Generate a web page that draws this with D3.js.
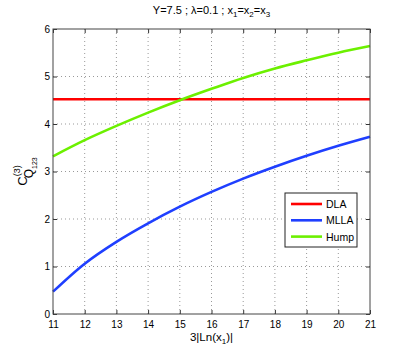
<!DOCTYPE html>
<html>
<head>
<meta charset="utf-8">
<script src="https://d3js.org/d3.v7.min.js"></script>
<style>
  body { margin: 0; background: #fff; }
  text { font-family: "Liberation Sans", Arial, sans-serif; fill: #000; }
</style>
</head>
<body>
<svg id="chart" width="409" height="354"></svg>
<script>
// data
var xs = [11, 12, 13, 14, 15, 16, 17, 18, 19, 20, 21];
var dla = [4.52, 4.52, 4.52, 4.52, 4.52, 4.52, 4.52, 4.52, 4.52, 4.52, 4.52];
var mlla = [0.47, 1.06, 1.52, 1.91, 2.26, 2.57, 2.85, 3.10, 3.33, 3.54, 3.73];
var hump = [3.32, 3.66, 3.96, 4.24, 4.50, 4.74, 4.97, 5.17, 5.34, 5.50, 5.64];
var seriesNames = ["DLA", "MLLA", "Hump"];
var seriesColors = ["#ff0000", "#1f3fff", "#6cf000"];
var xTicks = [11, 12, 13, 14, 15, 16, 17, 18, 19, 20, 21];
var yTicks = [0, 1, 2, 3, 4, 5, 6];

var margin = { top: 29, right: 39, bottom: 40, left: 53 };
var width = 409 - margin.left - margin.right;
var height = 354 - margin.top - margin.bottom;

var svg = d3.select("#chart");
var chart = svg.append("g")
    .attr("transform", "translate(" + margin.left + "," + margin.top + ")");

var x = d3.scaleLinear().domain([11, 21]).range([0, width]);
var y = d3.scaleLinear().domain([0, 6]).range([height, 0]);

// dotted grid
chart.append("g").selectAll("line.gx")
    .data(xTicks.slice(1, -1))
    .enter().append("line")
    .attr("x1", function(d) { return x(d); })
    .attr("x2", function(d) { return x(d); })
    .attr("y1", 0).attr("y2", height)
    .attr("stroke", "#999").attr("stroke-width", 1)
    .attr("stroke-dasharray", "1,3");
chart.append("g").selectAll("line.gy")
    .data(yTicks.slice(1, -1))
    .enter().append("line")
    .attr("y1", function(d) { return y(d); })
    .attr("y2", function(d) { return y(d); })
    .attr("x1", 0).attr("x2", width)
    .attr("stroke", "#999").attr("stroke-width", 1)
    .attr("stroke-dasharray", "1,3");

// curves
var line = d3.line()
    .x(function(d) { return x(d[0]); })
    .y(function(d) { return y(d[1]); })
    .curve(d3.curveCatmullRom);

var allSeries = [dla, mlla, hump];
allSeries.forEach(function(vals, i) {
    chart.append("path")
        .datum(xs.map(function(v, j) { return [v, vals[j]]; }))
        .attr("fill", "none")
        .attr("stroke", seriesColors[i])
        .attr("stroke-width", 2.6)
        .attr("d", line);
});

// axes with inward ticks (box style)
var xAxis = d3.axisBottom(x).tickValues(xTicks).tickSize(-4).tickPadding(7).tickFormat(d3.format("d"));
var yAxis = d3.axisLeft(y).tickValues(yTicks).tickSize(-4).tickPadding(3).tickFormat(d3.format("d"));
var xAxisTop = d3.axisTop(x).tickValues(xTicks).tickSize(-4).tickFormat("");
var yAxisRight = d3.axisRight(y).tickValues(yTicks).tickSize(-4).tickFormat("");

function styleAxis(g) {
    g.select(".domain").remove();
    g.selectAll(".tick line").attr("stroke", "#333");
    g.selectAll(".tick text").style("font-family", "Liberation Sans, Arial, sans-serif")
        .style("font-size", "10px").attr("fill", "#000");
}

chart.append("g").attr("transform", "translate(0," + height + ")").call(xAxis).call(styleAxis);
chart.append("g").call(yAxis).call(styleAxis);
chart.append("g").call(xAxisTop).call(styleAxis);
chart.append("g").attr("transform", "translate(" + width + ",0)").call(yAxisRight).call(styleAxis);

chart.append("rect")
    .attr("width", width).attr("height", height)
    .attr("fill", "none").attr("stroke", "#444").attr("stroke-width", 1);

// title
var title = svg.append("text")
    .attr("x", margin.left + width / 2).attr("y", 14)
    .attr("text-anchor", "middle").style("font-size", "11px");
title.append("tspan").text("Y=7.5 ; \u03bb=0.1 ; x");
title.append("tspan").attr("dy", 3).style("font-size", "8px").text("1");
title.append("tspan").attr("dy", -3).text("=x");
title.append("tspan").attr("dy", 3).style("font-size", "8px").text("2");
title.append("tspan").attr("dy", -3).text("=x");
title.append("tspan").attr("dy", 3).style("font-size", "8px").text("3");

// x label
var xl = svg.append("text")
    .attr("x", margin.left + width / 2).attr("y", 341)
    .attr("text-anchor", "middle").style("font-size", "11.5px");
xl.append("tspan").text("3|Ln(x");
xl.append("tspan").attr("dy", 3).style("font-size", "8px").text("1");
xl.append("tspan").attr("dy", -3).text(")|");

// y label
var yl = svg.append("text")
    .attr("transform", "translate(27," + (margin.top + height / 2) + ") rotate(-90)")
    .attr("text-anchor", "middle").style("font-size", "13px");
yl.append("tspan").text("C");
yl.append("tspan").attr("dy", -7).style("font-size", "9px").text("(3)");
yl.append("tspan").attr("dx", -13).attr("dy", 13).style("font-size", "12px").text("Q");
yl.append("tspan").attr("dy", 4).style("font-size", "7px").text("123");

// legend
var legend = svg.append("g").attr("transform", "translate(285,193)");
legend.append("rect").attr("width", 72).attr("height", 54)
    .attr("fill", "#fff").attr("stroke", "#222").attr("stroke-width", 1);
seriesNames.forEach(function(name, i) {
    var ly = 11 + i * 16.3;
    legend.append("line")
        .attr("x1", 6).attr("x2", 37).attr("y1", ly).attr("y2", ly)
        .attr("stroke", seriesColors[i]).attr("stroke-width", 2.6);
    legend.append("text").attr("x", 41).attr("y", ly + 4)
        .style("font-size", "10.5px").text(name);
});
</script>
</body>
</html>
